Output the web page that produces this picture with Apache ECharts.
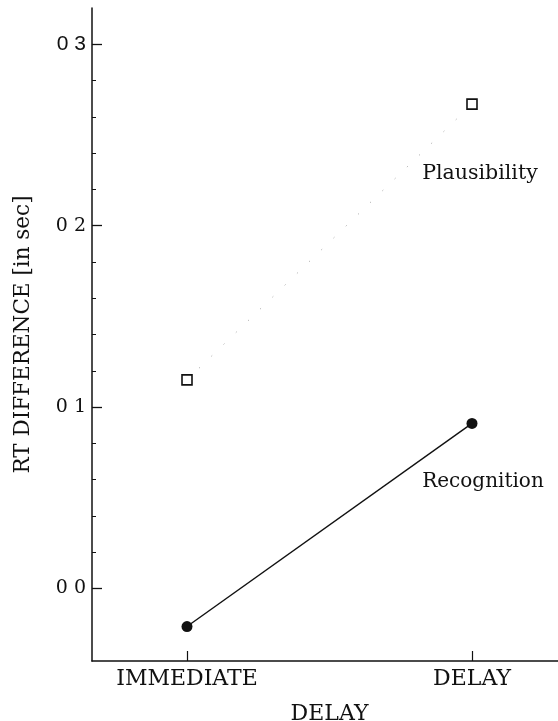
<!DOCTYPE html>
<html>
<head>
<meta charset="utf-8">
<script src="https://cdn.jsdelivr.net/npm/echarts@6/dist/echarts.min.js"></script>
<style>
html,body{margin:0;padding:0;background:#fff;}
#chart{width:558px;height:721px;}
</style>
</head>
<body>
<div id="chart"></div>
<script>
// ---- data ----
var categories = ['IMMEDIATE', 'DELAY'];
var plausibility = [0.115, 0.267];
var recognition = [-0.021, 0.091];
var seriesNames = ['Plausibility', 'Recognition'];
var yTickValues = [0.0, 0.1, 0.2, 0.3];
var yTickLabels = ['0 0', '0 1', '0 2', '0 3'];
var yMinorStep = 0.02;
var xAxisName = 'DELAY';
var yAxisName = 'RT DIFFERENCE [in sec]';

// ---- layout ----
var W = 558, H = 721;
var gLeft = 92, gTop = 8, gBottom = 60, gRight = -9;
var yMin = -0.04, yMax = 0.32;
var plotH = H - gTop - gBottom;
function yPix(v) { return gTop + (yMax - v) / (yMax - yMin) * plotH; }
var tMin = yTickValues[0], tMax = yTickValues[yTickValues.length - 1];
var tickGridTop = yPix(tMax), tickGridBottom = H - yPix(tMin);

// x slots: category positions along the axis
var xSlots = ['', categories[0], ' ', '  ', categories[1], '   '];
function isCat(idx) { return categories.indexOf(xSlots[idx]) >= 0; }

function buildData(vals) {
  return vals.map(function (v, i) {
    var item = { value: [categories[i], v] };
    if (i === vals.length - 1) item.label = { show: true };
    return item;
  });
}
function tickLabel(v) {
  for (var i = 0; i < yTickValues.length; i++) {
    if (Math.abs(yTickValues[i] - v) < 1e-9) {
      return i === yTickValues.length - 1 ? '{s|' + yTickLabels[i] + '}' : yTickLabels[i];
    }
  }
  return '';
}

var serif = 'DejaVu Serif';
var ink = '#111';

var chart = echarts.init(document.getElementById('chart'), null, { renderer: 'canvas' });
chart.setOption({
  backgroundColor: '#fff',
  animation: false,
  grid: [
    { left: gLeft, right: gRight, top: gTop, bottom: gBottom, containLabel: false, outerBoundsMode: 'none' },
    { left: gLeft, right: gRight, top: tickGridTop, bottom: tickGridBottom, containLabel: false, outerBoundsMode: 'none' }
  ],
  xAxis: [
    {
      type: 'category', gridIndex: 0,
      data: xSlots,
      boundaryGap: false,
      name: xAxisName,
      nameLocation: 'middle',
      nameGap: 42,
      nameTextStyle: { fontFamily: serif, fontSize: 22, color: ink },
      axisLine: { onZero: false, lineStyle: { color: ink, width: 1.5 } },
      axisTick: { inside: true, length: 10, lineStyle: { color: ink, width: 1.2 },
        interval: function (idx) { return isCat(idx); } },
      axisLabel: { interval: function (idx) { return isCat(idx); },
        fontFamily: serif, fontSize: 22, color: ink, margin: 7 },
      splitLine: { show: false }
    },
    { type: 'value', gridIndex: 1, show: false, splitLine: { show: false } }
  ],
  yAxis: [
    { type: 'value', gridIndex: 0, min: yMin, max: yMax,
      name: yAxisName, nameLocation: 'middle', nameGap: 58, nameRotate: 90,
      nameTextStyle: { fontFamily: serif, fontSize: 21.5, color: ink },
      axisLine: { show: true, onZero: false, lineStyle: { color: ink, width: 1.5 } },
      axisTick: { show: false }, axisLabel: { show: false }, splitLine: { show: false } },
    { type: 'value', gridIndex: 1, min: tMin, max: tMax, interval: 0.1, position: 'left', offset: 0,
      axisLine: { show: false, onZero: false },
      axisTick: { show: true, inside: true, length: 10, lineStyle: { color: ink, width: 1.3 } },
      axisLabel: {
        formatter: tickLabel,
        fontFamily: serif, fontSize: 19, color: ink, margin: 6,
        rich: { s: { fontFamily: 'Liberation Sans', fontSize: 21, color: ink } }
      },
      splitLine: { show: false } },
    { type: 'value', gridIndex: 1, min: tMin, max: tMax, interval: yMinorStep, position: 'left', offset: 0,
      axisLine: { show: false, onZero: false },
      axisTick: { show: true, inside: true, length: 4, lineStyle: { color: ink, width: 1 } },
      axisLabel: { show: false },
      splitLine: { show: false } }
  ],
  series: [
    {
      name: seriesNames[0], type: 'line', xAxisIndex: 0, yAxisIndex: 0,
      data: buildData(plausibility),
      symbol: 'rect', symbolSize: 10,
      itemStyle: { color: '#fff', borderColor: ink, borderWidth: 1.6 },
      lineStyle: { color: '#9a9a9a', width: 1, type: [1, 16] },
      label: { show: false, formatter: '{a}', position: 'bottom', offset: [8, 48],
        fontFamily: serif, fontSize: 20.5, color: ink },
      z: 3
    },
    {
      name: seriesNames[1], type: 'line', xAxisIndex: 0, yAxisIndex: 0,
      data: buildData(recognition),
      symbol: 'circle', symbolSize: 11,
      itemStyle: { color: ink, borderWidth: 0 },
      lineStyle: { color: ink, width: 1.4 },
      label: { show: false, formatter: '{a}', position: 'bottom', offset: [11, 38],
        fontFamily: serif, fontSize: 20, color: ink },
      z: 4
    }
  ]
});
</script>
</body>
</html>
